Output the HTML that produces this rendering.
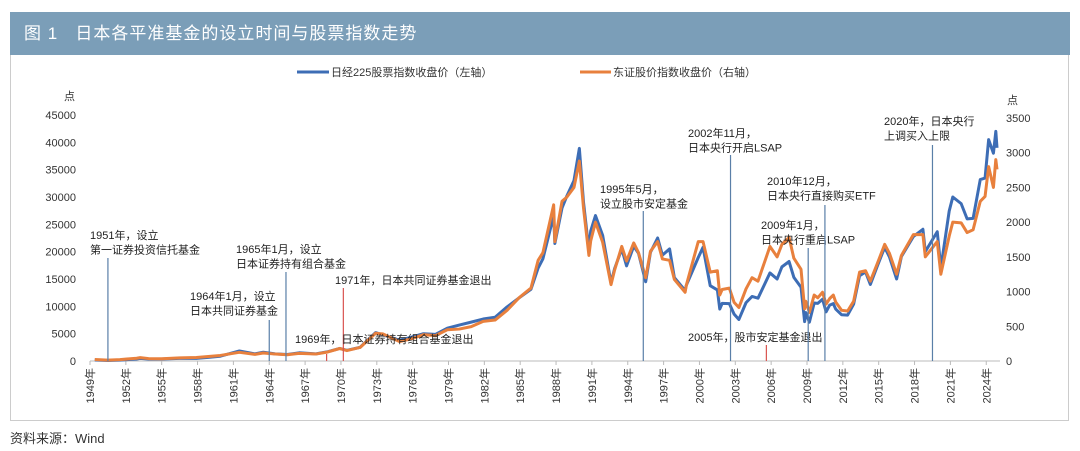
<!DOCTYPE html>
<html><head><meta charset="utf-8">
<style>
html,body{margin:0;padding:0;background:#fff;width:1080px;height:451px;overflow:hidden;font-family:"Liberation Sans","Noto Sans CJK SC",sans-serif;}
#hdr{position:absolute;left:10px;top:12px;width:1060px;height:43px;background:#7b9eb8;color:#fff;font-size:17px;line-height:43px;}
#hdr span{margin-left:14px;letter-spacing:1px;}
#panel{position:absolute;left:10px;top:55px;width:1059px;height:366px;border:1px solid #ccc;border-top:none;box-sizing:border-box;}
#src{position:absolute;left:10px;top:428px;font-size:13px;color:#333;}
svg{position:absolute;left:0;top:0;}
</style></head><body>
<div id="hdr"><span>图 1&nbsp;&nbsp;&nbsp;日本各平准基金的设立时间与股票指数走势</span></div>
<div id="panel"></div>
<div id="src">资料来源：Wind</div>
<svg id="chart" width="1080" height="451"></svg>
<script>
const years=[1949.4,1950.5,1951.5,1952.9,1953.2,1953.9,1955.0,1956.5,1957.9,1958.9,1959.9,1961.5,1962.8,1963.5,1964.5,1965.5,1966.5,1967.9,1968.9,1969.9,1970.5,1971.6,1972.9,1973.5,1974.9,1975.9,1976.9,1977.9,1978.9,1979.9,1980.9,1981.9,1982.9,1983.9,1984.9,1985.9,1986.5,1986.9,1987.8,1987.9,1988.5,1988.9,1989.5,1989.95,1990.3,1990.75,1990.9,1991.3,1991.9,1992.6,1992.9,1993.5,1993.9,1994.5,1994.9,1995.5,1995.9,1996.5,1996.9,1997.5,1997.9,1998.8,1998.9,1999.9,2000.3,2000.9,2001.5,2001.7,2001.9,2002.5,2002.9,2003.3,2003.9,2004.4,2004.9,2005.9,2006.5,2006.9,2007.5,2007.9,2008.5,2008.8,2008.9,2009.2,2009.6,2009.9,2010.3,2010.6,2010.9,2011.2,2011.4,2011.9,2012.4,2012.9,2013.4,2013.9,2014.3,2014.9,2015.5,2015.9,2016.5,2016.9,2017.9,2018.7,2018.9,2019.9,2020.2,2020.9,2021.2,2021.9,2022.4,2022.9,2023.5,2023.9,2024.2,2024.6,2024.8,2024.9];
const nikkei=[176,100,170,360,470,360,360,480,475,660,875,1830,1300,1600,1300,1200,1500,1300,1700,2300,1950,2500,5200,4800,3800,4350,4990,4860,6000,6570,7110,7680,8000,9890,11540,13110,17000,18700,26600,21500,28000,30160,33000,38900,29000,20200,23800,26600,22980,14300,16900,20500,17400,21000,19700,14500,19870,22500,19360,20500,15250,12900,13840,18930,20800,13780,13000,9500,10540,10500,8580,7600,10680,11800,11490,16110,15000,17220,18200,15300,13500,7200,8860,7100,10600,10550,11300,9000,10230,10500,9500,8450,8400,10400,15600,16290,14000,17450,20800,19030,15000,19110,22760,24100,20010,23650,17000,27440,30000,28790,26000,26090,33200,33460,40500,38000,42000,39000];
const topix=[22,12,20,40,48,35,32,45,50,65,80,125,95,115,100,90,110,100,130,180,150,195,400,390,280,320,380,365,450,460,495,570,590,730,910,1050,1450,1560,2250,1720,2300,2360,2500,2880,2200,1520,1730,2000,1710,1100,1310,1650,1440,1700,1560,1200,1580,1720,1470,1450,1175,990,1090,1720,1720,1280,1300,950,1030,1050,845,770,1040,1200,1150,1650,1500,1680,1780,1480,1320,750,860,700,950,910,990,820,900,950,850,730,720,860,1280,1300,1150,1410,1680,1550,1250,1520,1820,1820,1500,1720,1250,1800,2000,1990,1850,1890,2300,2370,2800,2500,2900,2760];
const xTicks=[1949,1952,1955,1958,1961,1964,1967,1970,1973,1976,1979,1982,1985,1988,1991,1994,1997,2000,2003,2006,2009,2012,2015,2018,2021,2024];
const leftTicks=[0,5000,10000,15000,20000,25000,30000,35000,40000,45000];
const rightTicks=[0,500,1000,1500,2000,2500,3000,3500];
const notes=[
 {year:1950.5,top:258,lines:["1951年，设立","第一证券投资信托基金"],tx:90,ty:239,red:false},
 {year:1964.0,top:320,lines:["1964年1月，设立","日本共同证券基金"],tx:190,ty:300,red:false},
 {year:1965.4,top:272,lines:["1965年1月，设立","日本证券持有组合基金"],tx:236,ty:253,red:false},
 {year:1970.2,top:288,lines:["1971年，日本共同证券基金退出"],tx:335,ty:284,red:true},
 {year:1968.8,top:354,lines:["1969年，日本证券持有组合基金退出"],tx:295,ty:343,red:true},
 {year:1995.3,top:211,lines:["1995年5月，","设立股市安定基金"],tx:600,ty:193,red:false},
 {year:2002.6,top:155,lines:["2002年11月，","日本央行开启LSAP"],tx:688,ty:137,red:false},
 {year:2005.6,top:345,lines:["2005年，股市安定基金退出"],tx:688,ty:341,red:true},
 {year:2009.1,top:248,lines:["2009年1月，","日本央行重启LSAP"],tx:761,ty:229,red:false},
 {year:2010.5,top:205,lines:["2010年12月，","日本央行直接购买ETF"],tx:767,ty:185,red:false},
 {year:2019.5,top:145,lines:["2020年，日本央行","上调买入上限"],tx:884,ty:125,red:false}
];
const svg=document.getElementById('chart');
const NS='http://www.w3.org/2000/svg';
const X0=90,PX=11.95,Y0=361,YL=246/45000,YR=243/3500;
const xs=y=>X0+(y-1949)*PX, yl=v=>Y0-v*YL, yr=v=>Y0-v*YR;
function mk(tag,attrs,parent){const e=document.createElementNS(NS,tag);for(const k in attrs)e.setAttribute(k,attrs[k]);(parent||svg).appendChild(e);return e;}
let ax=mk('line',{x1:X0,y1:Y0,x2:1000,y2:Y0,stroke:'#bbb','stroke-width':1});


xTicks.forEach(t=>{
 const tk=mk('line',{x1:xs(t),y1:Y0,x2:xs(t),y2:Y0+4,stroke:'#bbb'});
 
 
 const tx=mk('text',{x:0,y:0,transform:`translate(${xs(t)+4},368) rotate(-90)`,'text-anchor':'end','font-size':11,fill:'#333'});
 tx.textContent=t+'年';
 
 
});
leftTicks.forEach(t=>{
 const tx=mk('text',{x:76,y:yl(t)+4,'text-anchor':'end','font-size':11,fill:'#333'});
 tx.textContent=t;
 
 
});
rightTicks.forEach(t=>{
 const tx=mk('text',{x:1006,y:yr(t)+4,'text-anchor':'start','font-size':11,fill:'#333'});
 tx.textContent=t;
 
 
});
let u1=mk('text',{x:64,y:100,'font-size':11,fill:'#333'});u1.textContent='点';


let u2=mk('text',{x:1007,y:104,'font-size':11,fill:'#333'});u2.textContent='点';


mk('line',{x1:297,y1:72,x2:329,y2:72,stroke:'#3d6db5','stroke-width':3});
let l1=mk('text',{x:331,y:76,'font-size':11,fill:'#333'});l1.textContent='日经225股票指数收盘价（左轴）';


mk('line',{x1:580,y1:72,x2:611,y2:72,stroke:'#e8803d','stroke-width':3});
let l2=mk('text',{x:613,y:76,'font-size':11,fill:'#333'});l2.textContent='东证股价指数收盘价（右轴）';


let pn=mk('polyline',{points:years.map((y,i)=>xs(y)+','+yl(nikkei[i])).join(' '),fill:'none',stroke:'#3d6db5','stroke-width':3,'stroke-linejoin':'round'});


let pt=mk('polyline',{points:years.map((y,i)=>xs(y)+','+yr(topix[i])).join(' '),fill:'none',stroke:'#e8803d','stroke-width':3,'stroke-linejoin':'round'});


notes.forEach(n=>{
 const ln=mk('line',{x1:xs(n.year),y1:n.top,x2:xs(n.year),y2:Y0,stroke:n.red?'#d9534f':'#5a7fa8','stroke-width':1.2});
 
 
 n.lines.forEach((s,i)=>{
  const t=mk('text',{x:n.tx,y:n.ty+i*14.5,'font-size':11,fill:'#222'});
  t.textContent=s;
  
  
 });
});
</script>
</body></html>
